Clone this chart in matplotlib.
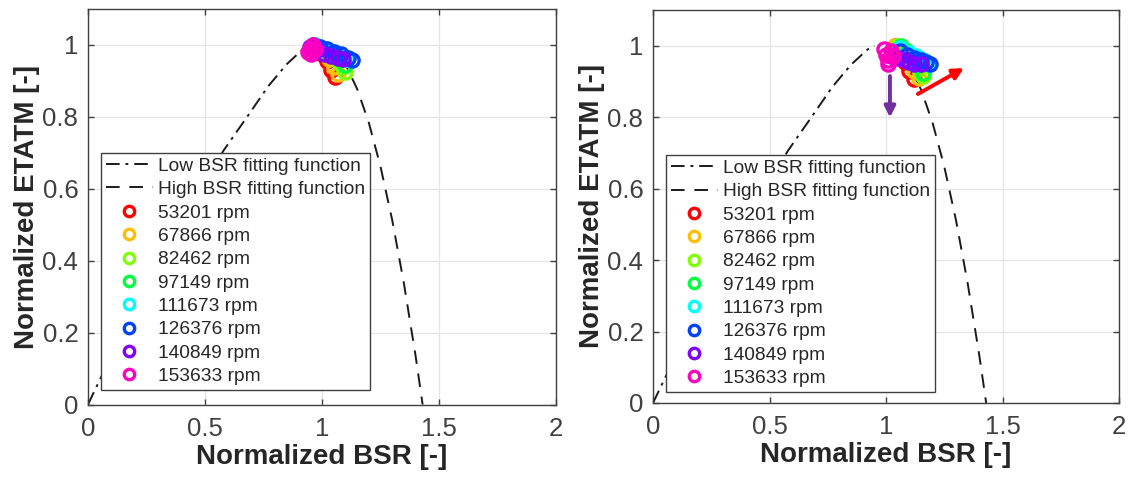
import numpy as np
import matplotlib
matplotlib.use('Agg')
import matplotlib.pyplot as plt
from matplotlib.lines import Line2D

plt.rcParams['font.family'] = ['Liberation Sans', 'DejaVu Sans']

# fitting functions
low_x = [0.0, 0.05, 0.1, 0.2, 0.3, 0.4, 0.5, 0.58, 0.68, 0.77, 0.85, 0.92, 0.95]
low_y = [0.0, 0.068, 0.135, 0.265, 0.389, 0.509, 0.621, 0.707, 0.80, 0.885, 0.947, 0.989, 1.0]
high_x = [1.0, 1.05, 1.1, 1.15, 1.2, 1.25, 1.3, 1.35, 1.4, 1.43]
high_y = [1.0, 0.986, 0.946, 0.878, 0.784, 0.662, 0.513, 0.337, 0.135, 0.0]

speeds = ['53201 rpm', '67866 rpm', '82462 rpm', '97149 rpm',
          '111673 rpm', '126376 rpm', '140849 rpm', '153633 rpm']
colors = ['#FF0000', '#FFBF00', '#80FF00', '#00FF40',
          '#00FFFF', '#0040FF', '#8000FF', '#FF00BF']

# left panel measured points
left_x = [
    [0.97, 1.00, 1.02, 1.04, 1.055],
    [0.97, 1.00, 1.03, 1.05, 1.07],
    [0.97, 1.01, 1.04, 1.07, 1.09, 1.10],
    [0.97, 1.01, 1.05, 1.08, 1.10],
    [0.97, 1.01, 1.05, 1.08, 1.105],
    [0.96, 0.99, 1.02, 1.05, 1.08, 1.11, 1.13],
    [0.95, 0.98, 1.01, 1.04, 1.07, 1.09],
    [0.94, 0.95, 0.96, 0.97, 0.955],
]
left_y = [
    [0.99, 0.975, 0.955, 0.93, 0.91],
    [0.995, 0.98, 0.96, 0.94, 0.92],
    [1.0, 0.985, 0.97, 0.955, 0.94, 0.925],
    [1.0, 0.99, 0.975, 0.96, 0.945],
    [1.0, 0.99, 0.98, 0.97, 0.96],
    [1.0, 0.995, 0.99, 0.98, 0.975, 0.965, 0.958],
    [0.995, 0.985, 0.975, 0.97, 0.965, 0.96],
    [0.98, 0.99, 1.0, 0.99, 0.975],
]

# right panel measured points
right_x = [
    [1.04, 1.06, 1.08, 1.10, 1.12],
    [1.04, 1.07, 1.10, 1.12, 1.14],
    [1.05, 1.08, 1.11, 1.14, 1.16],
    [1.064, 1.09, 1.12, 1.14, 1.16],
    [1.06, 1.10, 1.13, 1.16, 1.185],
    [1.06, 1.09, 1.12, 1.15, 1.17, 1.19],
    [1.02, 1.05, 1.08, 1.10, 1.12, 1.15],
    [0.99, 1.00, 1.01, 1.02, 1.03, 1.01],
]
right_y = [
    [1.0, 0.98, 0.955, 0.93, 0.907],
    [1.0, 0.98, 0.955, 0.93, 0.91],
    [1.0, 0.98, 0.96, 0.935, 0.915],
    [1.0, 0.985, 0.965, 0.945, 0.925],
    [0.995, 0.98, 0.97, 0.96, 0.95],
    [0.985, 0.975, 0.965, 0.96, 0.955, 0.95],
    [0.97, 0.965, 0.96, 0.955, 0.95, 0.95],
    [0.99, 0.975, 0.96, 0.985, 0.97, 0.95],
]

# arrows on right panel (start, end)
purple_arrow = [(1.017, 0.915), (1.017, 0.799)]
red_arrow = [(1.137, 0.865), (1.335, 0.9375)]

fig = plt.figure(figsize=(11.29, 4.79), dpi=100)
ax_l = fig.add_axes([88 / 1129, 74.5 / 479, 468 / 1129, 395.5 / 479])
ax_r = fig.add_axes([653 / 1129, 76 / 479, 466 / 1129, 393 / 479])

tick_color = '#262626'
dashdot = (0, (7, 3, 1.5, 3))
dashed = (0, (7, 5))


def draw_panel(ax, xs, ys, leg_anchor):
    ax.plot(low_x, low_y, color='#1a1a1a', lw=1.4, ls=dashdot)
    ax.plot(high_x, high_y, color='#1a1a1a', lw=1.4, ls=dashed)
    for x, y, c in zip(xs, ys, colors):
        ax.plot(x, y, 'o', ms=9.5, mfc='none', mec=c, mew=2.4, ls='none')
    ax.set_xlim(0, 2)
    ax.set_ylim(0, 1.1)
    ax.set_xticks([0, 0.5, 1, 1.5, 2])
    ax.set_xticklabels(['0', '0.5', '1', '1.5', '2'])
    ax.set_yticks([0, 0.2, 0.4, 0.6, 0.8, 1])
    ax.set_yticklabels(['0', '0.2', '0.4', '0.6', '0.8', '1'])
    ax.tick_params(direction='in', length=4, width=1, labelsize=18.5,
                   colors='#404040', top=True, right=True, pad=7)
    ax.tick_params(axis='x', pad=9)
    ax.grid(True, color='#e6e6e6', lw=1)
    ax.set_axisbelow(True)
    for s in ax.spines.values():
        s.set_color('#404040')
        s.set_linewidth(1)
    ax.set_xlabel('Normalized BSR [-]', fontsize=20, fontweight='bold',
                  color=tick_color, labelpad=2)
    ax.set_ylabel('Normalized ETATM [-]', fontsize=20, fontweight='bold',
                  color=tick_color, labelpad=2)

    handles = [Line2D([], [], color='#1a1a1a', lw=1.4, ls=dashdot),
               Line2D([], [], color='#1a1a1a', lw=1.4, ls=dashed)]
    handles += [Line2D([], [], marker='o', ms=7.5, mfc='none', mec=c, mew=2.4, ls='none')
                for c in colors]
    labels = ['Low BSR fitting function', 'High BSR fitting function'] + speeds
    leg = ax.legend(handles, labels, loc='lower left', bbox_to_anchor=leg_anchor,
                    borderaxespad=0, fontsize=13.8, frameon=True, fancybox=False,
                    handlelength=2.45, handletextpad=0.25, labelspacing=0.31,
                    borderpad=0.25)
    leg.get_frame().set_edgecolor('#404040')
    leg.get_frame().set_linewidth(1)
    leg.get_frame().set_alpha(1)
    for t in leg.get_texts():
        t.set_color(tick_color)


draw_panel(ax_l, left_x, left_y, (0.028, 0.037))
draw_panel(ax_r, right_x, right_y, (0.028, 0.028))

ax_r.annotate('', xy=purple_arrow[1], xytext=purple_arrow[0],
              arrowprops=dict(arrowstyle='-|>', color='#7030A0', lw=2.8,
                              mutation_scale=16, shrinkA=0, shrinkB=0))
ax_r.annotate('', xy=red_arrow[1], xytext=red_arrow[0],
              arrowprops=dict(arrowstyle='-|>', color='#FF0000', lw=2.8,
                              mutation_scale=16, shrinkA=0, shrinkB=0))

fig.savefig('out.png', dpi=100, facecolor='white')
